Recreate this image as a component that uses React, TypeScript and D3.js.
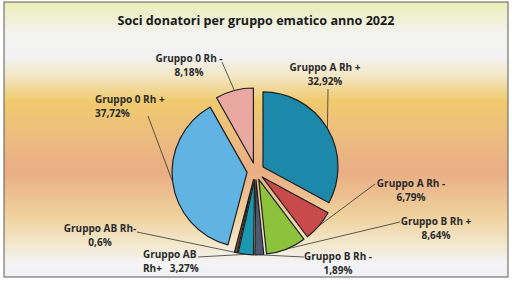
import React from "react";
import * as d3 from "d3";

// Chart data
const groups = [
  "Gruppo A Rh +",
  "Gruppo A Rh -",
  "Gruppo B Rh +",
  "Gruppo B Rh -",
  "Gruppo AB Rh+",
  "Gruppo AB Rh-",
  "Gruppo 0 Rh +",
  "Gruppo 0 Rh -",
];
const percents = [32.92, 6.79, 8.64, 1.89, 3.27, 0.6, 37.72, 8.18];
const valueLabels = ["32,92%", "6,79%", "8,64%", "1,89%", "3,27%", "0,6%", "37,72%", "8,18%"];
const colors = ["#1c88aa", "#c94a4a", "#8cc23c", "#4d5a72", "#1b97b2", "#7a4626", "#60b3e2", "#e9a9a2"];

// label placement (text block anchor + where the leader line starts)
const labelLayout = [
  { x: 325, y: 71, anchor: "middle", lines: [groups[0], valueLabels[0]], from: [328, 89] },
  { x: 411, y: 187, anchor: "middle", lines: [groups[1], valueLabels[1]], from: [375, 184] },
  { x: 436, y: 225, anchor: "middle", lines: [groups[2], valueLabels[2]], from: [400, 222] },
  { x: 338, y: 260, anchor: "middle", lines: [groups[3], valueLabels[3]], from: [304, 257] },
  { x: 143, y: 258, anchor: "start", lines: ["Gruppo AB", "Rh+   " + valueLabels[4]], from: [198, 257] },
  { x: 100, y: 232, anchor: "middle", lines: [groups[5], valueLabels[5]], from: [137, 232] },
  { x: 95, y: 103, anchor: "start", lines: [groups[6], valueLabels[6]], from: [148, 116] },
  { x: 189, y: 62, anchor: "middle", lines: [groups[7], valueLabels[7]], from: [222, 62] },
];

const W = 512;
const H = 284;
const cx = 255.6;
const cy = 171.3;
const R = 75;
const explode = 8.6;

const App: React.FC = () => {
  const pie = d3
    .pie<number>()
    .sort(null)
    .value((d) => d);
  const arcs = pie(percents);
  const arc = d3.arc<d3.PieArcDatum<number>>().innerRadius(0).outerRadius(R);

  const font = "'Open Sans', sans-serif";

  return (
    <svg
      width={W}
      height={H}
      style={{ position: "absolute", left: 0, top: 0, background: "#ffffff" }}
    >
      <defs>
        <linearGradient id="bg" x1="0" y1="0" x2="0" y2="1">
          <stop offset="0" stopColor="#eaedb4" />
          <stop offset="0.05" stopColor="#eef0d0" />
          <stop offset="0.12" stopColor="#f3f3f2" />
          <stop offset="0.2" stopColor="#f3f2f2" />
          <stop offset="0.27" stopColor="#f3e6c4" />
          <stop offset="0.36" stopColor="#f0cb6e" />
          <stop offset="0.5" stopColor="#ecbb80" />
          <stop offset="0.62" stopColor="#eaae84" />
          <stop offset="0.78" stopColor="#efd29e" />
          <stop offset="0.88" stopColor="#f3e8cc" />
          <stop offset="0.95" stopColor="#f4f4f6" />
          <stop offset="1" stopColor="#f1f1f3" />
        </linearGradient>
      </defs>

      <rect x={4} y={2} width={504} height={275} fill="url(#bg)" stroke="#5a5a5a" strokeWidth={1} />

      <text
        x={256}
        y={25}
        textAnchor="middle"
        fontFamily={font}
        fontWeight={700}
        fontSize={12.6}
        fill="#1a1a1a"
      >
        Soci donatori per gruppo ematico anno 2022
      </text>

      {/* slices, each pushed out along its mid angle */}
      {arcs.map((a, i) => {
        const mid = (a.startAngle + a.endAngle) / 2;
        const dx = Math.sin(mid) * explode;
        const dy = -Math.cos(mid) * explode;
        return (
          <g key={groups[i]} transform={`translate(${cx + dx},${cy + dy})`}>
            <path d={arc(a) || ""} fill={colors[i]} stroke="#1e1e1e" strokeWidth={1.2} strokeLinejoin="round" />
          </g>
        );
      })}

      {/* leader lines */}
      {arcs.map((a, i) => {
        const mid = (a.startAngle + a.endAngle) / 2;
        const ex = cx + Math.sin(mid) * (explode + R);
        const ey = cy - Math.cos(mid) * (explode + R);
        const l = labelLayout[i];
        return (
          <line
            key={"l" + i}
            x1={l.from[0]}
            y1={l.from[1]}
            x2={ex}
            y2={ey}
            stroke="#333"
            strokeWidth={0.8}
          />
        );
      })}

      {/* labels */}
      {labelLayout.map((l, i) => (
        <text
          key={"t" + i}
          x={l.x}
          y={l.y}
          textAnchor={l.anchor as any}
          fontFamily={font}
          fontWeight={700}
          fontSize={10}
          fill="#2a2a2a"
          style={{ whiteSpace: "pre" }}
        >
          {l.lines.map((s, j) => (
            <tspan key={j} x={l.x} dy={j === 0 ? 0 : 14}>
              {s}
            </tspan>
          ))}
        </text>
      ))}
    </svg>
  );
};

export default App;
